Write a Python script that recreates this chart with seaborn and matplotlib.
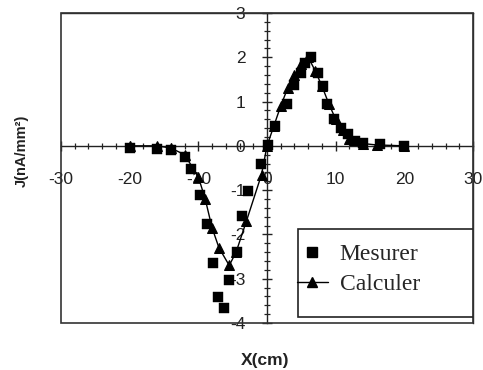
import numpy as np
import pandas as pd
import seaborn as sns
import matplotlib
matplotlib.use("Agg")
import matplotlib.pyplot as plt
from matplotlib.patches import Rectangle
from matplotlib.ticker import MultipleLocator
from matplotlib.lines import Line2D

# Data
mes_x = [-20, -16, -14, -12, -11, -9.7, -8.7, -7.8, -7.1, -6.2, -5.5, -4.4, -3.7, -2.7,
         -0.9, 0.2, 1.2, 2.9, 3.9, 4.9, 5.6, 6.4, 7.4, 8.1, 8.8, 9.8, 10.8, 11.8, 12.8,
         14, 16.5, 20]
mes_y = [-0.05, -0.08, -0.1, -0.25, -0.52, -1.12, -1.76, -2.65, -3.42, -3.67, -3.04,
         -2.4, -1.58, -1.02, -0.42, 0.02, 0.45, 0.95, 1.38, 1.65, 1.88, 2.0, 1.65, 1.34,
         0.95, 0.6, 0.41, 0.26, 0.1, 0.06, 0.04, 0.0]

calc_x = [-20, -16, -14, -12, -10, -9, -8, -7, -5.5, -4.5, -3, -0.8, 0, 1, 2, 3, 4, 5,
          6, 7, 8, 9, 10, 11, 12, 14, 16, 20]
calc_y = [0, 0, -0.05, -0.2, -0.7, -1.2, -1.85, -2.3, -2.7, -2.4, -1.7, -0.65, 0, 0.45,
          0.9, 1.3, 1.6, 1.85, 2.0, 1.7, 1.35, 0.95, 0.6, 0.35, 0.15, 0.05, 0.02, 0]

x_ticks = [-30, -20, -10, 0, 10, 20, 30]
y_ticks = [-4, -3, -2, -1, 0, 1, 2, 3]
labels = ["Mesurer", "Calculer"]

sns.set_style("white")
plt.rcParams["font.family"] = ["Liberation Sans", "DejaVu Sans"]

fig = plt.figure(figsize=(4.83, 3.70), dpi=100)
ax = fig.add_axes([0.1263, 0.127, 0.853, 0.838])

df_m = pd.DataFrame({"x": mes_x, "y": mes_y})
df_c = pd.DataFrame({"x": calc_x, "y": calc_y})

sns.lineplot(data=df_c, x="x", y="y", ax=ax, color="black", lw=1.0, marker="^",
             markersize=7, markeredgecolor="black", sort=False, zorder=3)
sns.scatterplot(data=df_m, x="x", y="y", ax=ax, color="black", marker="s", s=45,
                edgecolor="black", linewidth=0.3, zorder=4)

ax.set_xlim(-30, 30)
ax.set_ylim(-4, 3)

# zero-crossing axes
ax.spines["left"].set_position(("data", 0))
ax.spines["bottom"].set_position(("data", 0))
for s in ["left", "bottom", "top", "right"]:
    ax.spines[s].set_color("#222222")
    ax.spines[s].set_linewidth(1.0)
    ax.spines[s].set_visible(True)
ax.add_patch(Rectangle((0, 0), 1, 1, transform=ax.transAxes, fill=False,
                       edgecolor="#333333", lw=1.2, clip_on=False, zorder=5))

ax.xaxis.set_minor_locator(MultipleLocator(2))
ax.yaxis.set_minor_locator(MultipleLocator(0.2))
ax.set_xticks(x_ticks)
ax.set_yticks(y_ticks)
ax.set_xticklabels([str(v) for v in x_ticks])
ax.set_yticklabels([str(v) for v in y_ticks])
ax.tick_params(axis="both", which="major", direction="inout", length=7, width=1.0,
               color="#222222", labelsize=12.5, labelcolor="#222222")
ax.tick_params(axis="x", which="major", pad=15)
ax.tick_params(axis="y", which="major", pad=12)
ax.tick_params(axis="both", which="minor", direction="inout", length=5, width=0.9,
               color="#222222")
ax.tick_params(axis="both", which="both", bottom=True, left=True, top=False, right=False)

ax.set_xlabel("")
ax.set_ylabel("")
fig.text(0.548, 0.027, "X(cm)", ha="center", va="center", fontsize=12.5,
         fontweight="bold", color="#222222")
fig.text(0.045, 0.592, "J(nA/mm²)", ha="center", va="center", rotation=90,
         fontsize=10.5, fontweight="bold", color="#222222")

# legend box
ax.add_patch(Rectangle((0.575, 0.019), 0.425, 0.284, transform=ax.transAxes,
                       facecolor="white", edgecolor="#222222", lw=1.2, zorder=6))
handles = [Line2D([], [], color="black", marker="s", linestyle="none", markersize=6.5),
           Line2D([], [], color="black", marker="^", linestyle="-", lw=1.0, markersize=7)]
leg = ax.legend(handles, labels, loc="upper left", bbox_to_anchor=(0.573, 0.257),
                frameon=False, prop={"family": "Liberation Serif", "size": 17},
                handlelength=1.3, handletextpad=0.5, borderpad=0, labelspacing=0.38,
                borderaxespad=0)
leg.set_zorder(7)

fig.savefig("out.png", dpi=100)
